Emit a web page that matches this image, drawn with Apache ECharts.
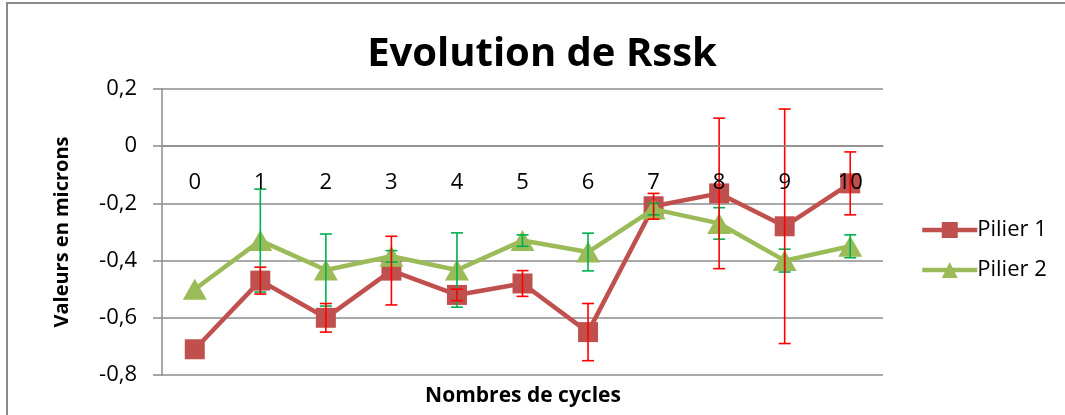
<!DOCTYPE html>
<html>
<head>
<meta charset="utf-8">
<script src="https://cdn.jsdelivr.net/npm/echarts@6/dist/echarts.min.js"></script>
<style>
  html, body { margin: 0; padding: 0; background: #fff; }
  #chart { width: 1065px; height: 415px; }
</style>
</head>
<body>
<div id="chart"></div>
<script>
// Cycle numbers on the category axis
const cycles = ['0', '1', '2', '3', '4', '5', '6', '7', '8', '9', '10'];

// Mean Rssk per pillar (microns) and the half-width of each error bar
const pilier1 = [-0.71, -0.47, -0.60, -0.435, -0.52, -0.48, -0.65, -0.21, -0.165, -0.28, -0.13];
const pilier1Err = [0, 0.047, 0.05, 0.12, 0.02, 0.045, 0.10, 0.045, 0.263, 0.41, 0.11];
const pilier2 = [-0.50, -0.33, -0.433, -0.385, -0.433, -0.33, -0.37, -0.22, -0.27, -0.40, -0.35];
const pilier2Err = [0, 0.18, 0.126, 0.02, 0.13, 0.02, 0.066, 0.02, 0.055, 0.04, 0.04];

// Value-axis ticks
const yMin = -0.8, yMax = 0.2, yStep = 0.2;

const FONT = 'Open Sans';
const GRID_GRAY = '#8c8c8c';
const GRID = { left: 162, right: 182, top: 89, bottom: 40 };

function errorData(means, errs) {
  return means.map((m, i) => [i, m - errs[i], m + errs[i], errs[i]]);
}

function errorBarRenderer(color) {
  return function (params, api) {
    if (api.value(3) === 0) return null;
    const lo = api.coord([api.value(0), api.value(1)]);
    const hi = api.coord([api.value(0), api.value(2)]);
    const cap = 6;
    const style = { stroke: color, lineWidth: 1.6 };
    return {
      type: 'group',
      children: [
        { type: 'line', shape: { x1: lo[0], y1: lo[1], x2: hi[0], y2: hi[1] }, style },
        { type: 'line', shape: { x1: hi[0] - cap, y1: hi[1], x2: hi[0] + cap, y2: hi[1] }, style },
        { type: 'line', shape: { x1: lo[0] - cap, y1: lo[1], x2: lo[0] + cap, y2: lo[1] }, style }
      ]
    };
  };
}

// The category axis crosses the value axis at 0: shift it down from the top edge
const plotHeight = 415 - GRID.top - GRID.bottom;
const zeroOffset = plotHeight * (yMax - 0) / (yMax - yMin);

const chart = echarts.init(document.getElementById('chart'), null, { renderer: 'canvas' });

chart.setOption({
  animation: false,
  backgroundColor: '#fff',
  textStyle: { fontFamily: FONT },
  graphic: [
    // chart frame
    { type: 'rect', shape: { x: 7, y: 3, width: 1100, height: 450 },
      style: { fill: 'none', stroke: '#8a8a8a', lineWidth: 2 }, silent: true },
    { type: 'text', x: 542, y: 55,
      style: { text: 'Evolution de Rssk', font: 'bold 40px "Open Sans"', fill: '#000',
               textAlign: 'center', textVerticalAlign: 'middle' } },
    { type: 'text', x: 523, y: 396,
      style: { text: 'Nombres de cycles', font: 'bold 21px "Open Sans"', fill: '#000',
               textAlign: 'center', textVerticalAlign: 'middle' } }
  ],
  legend: {
    orient: 'vertical',
    left: 915,
    top: 214,
    itemWidth: 55,
    itemHeight: 20,
    itemGap: 18,
    data: ['Pilier 1', 'Pilier 2'],
    lineStyle: { width: 4.5 },
    textStyle: { fontSize: 22, color: '#000', fontFamily: FONT, padding: [0, 0, 0, -5] }
  },
  grid: GRID,
  xAxis: {
    type: 'category',
    data: cycles,
    position: 'top',
    offset: -zeroOffset,
    boundaryGap: true,
    z: 10,
    axisLine: { show: true, onZero: false, lineStyle: { color: GRID_GRAY, width: 1.5 } },
    axisTick: { show: false },
    axisLabel: { inside: true, color: '#000', fontSize: 22, fontFamily: FONT, margin: 26 },
    splitLine: { show: false }
  },
  yAxis: {
    type: 'value',
    min: yMin,
    max: yMax,
    interval: yStep,
    name: 'Valeurs en microns',
    nameLocation: 'middle',
    nameGap: 90,
    nameTextStyle: { fontSize: 20, fontWeight: 'bold', color: '#000', fontFamily: FONT },
    axisLine: { show: true, lineStyle: { color: GRID_GRAY, width: 1.5 } },
    axisTick: { show: true, length: 9, lineStyle: { color: GRID_GRAY, width: 1.5 } },
    axisLabel: {
      color: '#000', fontSize: 22, fontFamily: FONT, margin: 25,
      formatter: v => (Math.abs(v) < 1e-9 ? '0' : v.toFixed(1).replace('.', ','))
    },
    splitLine: { show: true, lineStyle: { color: GRID_GRAY, width: 1.5 } }
  },
  series: [
    {
      name: 'Pilier 1',
      type: 'line',
      data: pilier1,
      symbol: 'rect',
      symbolSize: 20,
      itemStyle: { color: '#C0504D' },
      lineStyle: { color: '#C0504D', width: 4.5 },
      z: 2
    },
    {
      name: 'Pilier 2',
      type: 'line',
      data: pilier2,
      symbol: 'triangle',
      symbolSize: [24, 21],
      itemStyle: { color: '#9BBB59' },
      lineStyle: { color: '#9BBB59', width: 4.5 },
      z: 3
    },
    {
      name: 'Pilier 1 err',
      type: 'custom',
      data: errorData(pilier1, pilier1Err),
      renderItem: errorBarRenderer('#FF0000'),
      encode: { x: 0, y: [1, 2] },
      z: 5
    },
    {
      name: 'Pilier 2 err',
      type: 'custom',
      data: errorData(pilier2, pilier2Err),
      renderItem: errorBarRenderer('#00B050'),
      encode: { x: 0, y: [1, 2] },
      z: 4
    }
  ]
});
</script>
</body>
</html>
